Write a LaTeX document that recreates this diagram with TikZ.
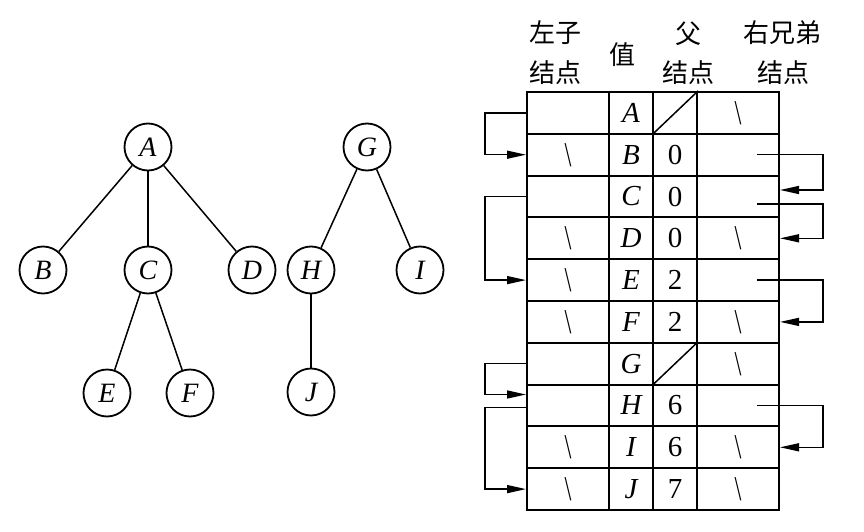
\documentclass[tikz,border=0pt]{standalone}
\usepackage{fontspec}
\usepackage{graphicx}
\setmainfont{Liberation Serif}
\newfontfamily\cjk{Noto Sans CJK SC}
\usetikzlibrary{arrows.meta}
% null pointer mark used in the link cells
\newcommand\nilmark{\scalebox{0.85}[1.2]{\textbackslash}}
\begin{document}
\begin{tikzpicture}[x=1pt,y=-1pt,
  tnode/.style={circle,draw,line width=1.8pt,minimum size=47pt,inner sep=0pt,
    font=\fontsize{28}{28}\selectfont\itshape},
  tedge/.style={line width=1.5pt},
  cell/.style={draw,line width=2pt,minimum height=41.8pt,inner sep=0pt,
    font=\fontsize{29}{29}\selectfont},
  wide/.style={cell,minimum width=82pt},
  narrow/.style={cell,minimum width=44pt},
  ptr/.style={line width=1.4pt,-{Triangle[length=19pt,width=8pt]}},
  head/.style={font=\fontsize{26}{26}\selectfont\cjk,inner sep=0pt}
]
\useasboundingbox (0,0) rectangle (864,532);

% ---- the forest ----
\node[tnode] (A) at (148,147) {A};
\node[tnode] (B) at (43,270) {B};
\node[tnode] (C) at (148,270) {C};
\node[tnode] (D) at (252,270) {D};
\node[tnode] (E) at (107,393) {E};
\node[tnode] (F) at (190,393) {F};
\node[tnode] (G) at (367,147) {G};
\node[tnode] (H) at (311,270) {H};
\node[tnode] (I) at (420,270) {I};
\node[tnode] (J) at (311,392) {J};
\draw[tedge] (A) -- (B);
\draw[tedge] (A) -- (C);
\draw[tedge] (A) -- (D);
\draw[tedge] (C) -- (E);
\draw[tedge] (C) -- (F);
\draw[tedge] (G) -- (H);
\draw[tedge] (G) -- (I);
\draw[tedge] (H) -- (J);

% ---- column headings ----
\node[head] (hl1) at (555,33) {左子};
\node[head] (hl2) at (555,73) {结点};
\node[head] (hv)  at (622,55) {值};
\node[head] (hp1) at (688,34) {父};
\node[head] (hp2) at (688,73) {结点};
\node[head] (hr1) at (782,33) {右兄弟};
\node[head] (hr2) at (783,73) {结点};

% ---- the table: left child / value / parent / right sibling ----
\foreach \n/\lt/\pt/\rt [count=\i from 0] in {
    A/{}/{}/\nilmark,
    B/\nilmark/0/{},
    C/{}/0/{},
    D/\nilmark/0/\nilmark,
    E/\nilmark/2/{},
    F/\nilmark/2/\nilmark,
    G/{}/{}/\nilmark,
    H/{}/6/{},
    I/\nilmark/6/\nilmark,
    J/\nilmark/7/\nilmark}{
  \node[wide]   (l\n) at (568,{112.9+41.8*\i}) {\lt};
  \node[narrow,font=\fontsize{29}{29}\selectfont\itshape] (v\n) at (631,{112.9+41.8*\i}) {\n};
  \node[narrow] (p\n) at (675,{112.9+41.8*\i}) {\pt};
  \node[wide]   (r\n) at (738,{112.9+41.8*\i}) {\rt};
}
\draw[line width=1.5pt] (pA.south west) -- (pA.north east);
\draw[line width=1.5pt] (pG.south west) -- (pG.north east);

% ---- left-child pointers ----
\draw[ptr] (lA.west) -- ++(-41,0) |- (lB.west);
\draw[ptr] (lC.west) -- ++(-41,0) |- (lE.west);
\draw[ptr] (lG.west) -- ++(-41,0) |- ([yshift=11pt]lH.west);
\draw[ptr] ([yshift=-2pt]lH.west) -- ++(-41,0) |- (lJ.west);

% ---- right-sibling pointers ----
\draw[ptr] ([xshift=19pt]rB.center) -- ([xshift=43pt]rB.east) |- ([yshift=6.5pt]rC.east);
\draw[ptr] ([xshift=19pt,yshift=-7.5pt]rC.center) -- ([xshift=43pt,yshift=-7.5pt]rC.east) |- (rD.east);
\draw[ptr] ([xshift=19pt]rE.center) -- ([xshift=43pt]rE.east) |- (rF.east);
\draw[ptr] ([xshift=19pt]rH.center) -- ([xshift=43pt]rH.east) |- (rI.east);
\end{tikzpicture}
\end{document}
